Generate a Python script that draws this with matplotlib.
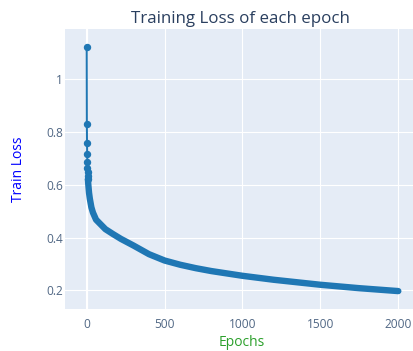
import matplotlib
matplotlib.use("Agg")
import matplotlib.pyplot as plt

# Values
epochs = [0, 1, 2, 3, 4, 5, 6, 7, 8, 10, 15, 20, 30, 40, 60, 90, 120, 170,
          220, 300, 400, 500, 600, 700, 800, 1000, 1200, 1500, 1750, 2000]
train_loss = [1.123, 0.831, 0.759, 0.717, 0.688, 0.665, 0.648, 0.634, 0.622,
              0.603, 0.570, 0.548, 0.515, 0.495, 0.468, 0.450, 0.432, 0.413,
              0.395, 0.370, 0.337, 0.313, 0.297, 0.284, 0.273, 0.255, 0.240,
              0.221, 0.208, 0.197]
x_ticks = [0, 500, 1000, 1500, 2000]
y_ticks = [0.2, 0.4, 0.6, 0.8, 1.0]
y_tick_labels = ["0.2", "0.4", "0.6", "0.8", "1"]

plt.rcParams['font.family'] = ['Open Sans', 'DejaVu Sans']

W, H = 414, 351
fig = plt.figure(figsize=(W / 100, H / 100), dpi=100)
left, right, top, bottom = 65, 414, 29.3, 309.3
ax = fig.add_axes([left / W, 1 - bottom / H, (right - left) / W, (bottom - top) / H])
ax.set_facecolor('#E5ECF6')
for s in ax.spines.values():
    s.set_visible(False)

ax.set_xlim(-139.3, 2100.8)
ax.set_ylim(0.1279, 1.1905)

ax.set_xticks(x_ticks)
ax.set_yticks(y_ticks)
ax.set_yticklabels(y_tick_labels)
ax.tick_params(length=0, labelsize=8.6, colors='#506784', pad=1.5)
ax.tick_params(axis='x', pad=6)
ax.grid(True, color='white', linewidth=0.8)
ax.set_axisbelow(True)
ax.axvline(0, color='white', linewidth=1.5, zorder=0.5)

blue = '#1f77b4'
n_sparse = 9
# thin connecting line through all epochs
ax.plot(epochs, train_loss, color=blue, linewidth=1.44, zorder=3)
# separate markers for the first, well-spaced epochs
ax.plot(epochs[:n_sparse], train_loss[:n_sparse], linestyle='none', marker='o',
        markersize=4.3, color=blue, zorder=3, clip_on=False)
# dense overlapping markers form a thick band after the first few epochs
ax.plot(epochs[n_sparse - 1:], train_loss[n_sparse - 1:], color=blue, linewidth=4.6,
        solid_capstyle='round', solid_joinstyle='round', zorder=3)

fig.text(240 / W, 1 - 19 / H, "Training Loss of each epoch", ha='center', va='center',
         fontsize=12.2, color='#2a3f5f')
fig.text(19 / W, 1 - 169.5 / H, "Train Loss", ha='center', va='center', rotation=90,
         fontsize=10, color='blue')
fig.text(241.5 / W, 1 - 342.5 / H, "Epochs", ha='center', va='center',
         fontsize=10, color='#2ca02c')

fig.savefig('out.png', dpi=100)
